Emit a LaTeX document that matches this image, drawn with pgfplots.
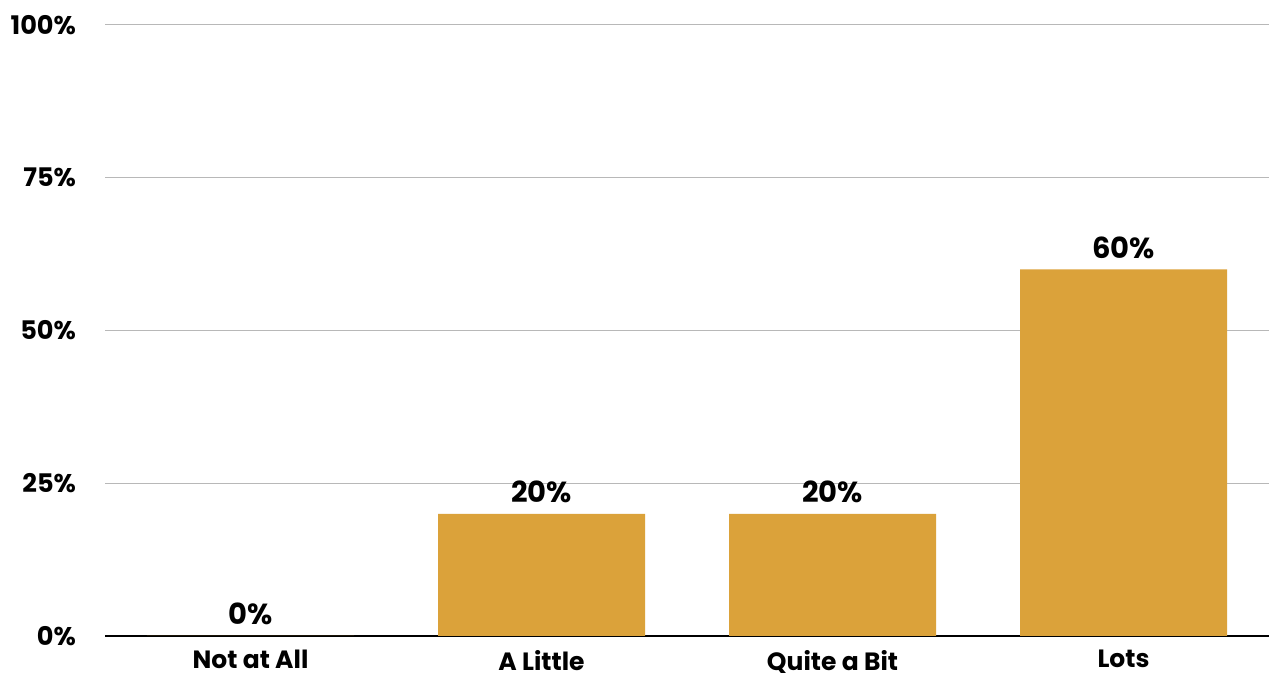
\documentclass[border=0pt]{standalone}
\usepackage{pgfplots}
\pgfplotsset{compat=1.18}
\usepackage{fontspec}
\setmainfont{Poppins}
\definecolor{barc}{HTML}{DBA23A}
\begin{document}
\begin{tikzpicture}
\path[use as bounding box] (-52.5pt,-21pt) rectangle (582pt,318pt);
\begin{axis}[
  at={(72.75pt,0)}, anchor=origin,
  scale only axis, width=582pt, height=305.5pt,
  xmin=-0.5, xmax=3.5, ymin=0, ymax=100,
  xtick={0,1,2,3},
  xticklabels={Not at All, A Little, Quite a Bit, Lots},
  ytick={0,25,50,75,100},
  yticklabel={\pgfmathprintnumber{\tick}\%},
  /pgf/number format/assume math mode=true,
  ymajorgrids, grid style={draw=black!28, line width=0.5pt},
  axis x line*=bottom, axis y line*=left,
  y axis line style={draw=none},
  x axis line style={black, line width=1.1pt, -},
  major tick length=0pt,
  tick label style={font=\fontsize{12.8}{15}\selectfont\bfseries},
  yticklabel style={xshift=-11pt},
  xticklabel style={font=\fontsize{12.5}{15}\selectfont\bfseries, yshift=-6.5pt, inner sep=0.5pt},
  ybar, bar width=103.5pt,
  nodes near coords={\pgfmathprintnumber{\pgfplotspointmeta}\%},
  nodes near coords style={font=\fontsize{14.5}{17}\selectfont\bfseries, anchor=south, yshift=2pt},
  clip=false,
]
\addplot[fill=barc, draw=none] coordinates {(0,0) (1,20) (2,20) (3,60)};
\end{axis}
\end{tikzpicture}
\end{document}
